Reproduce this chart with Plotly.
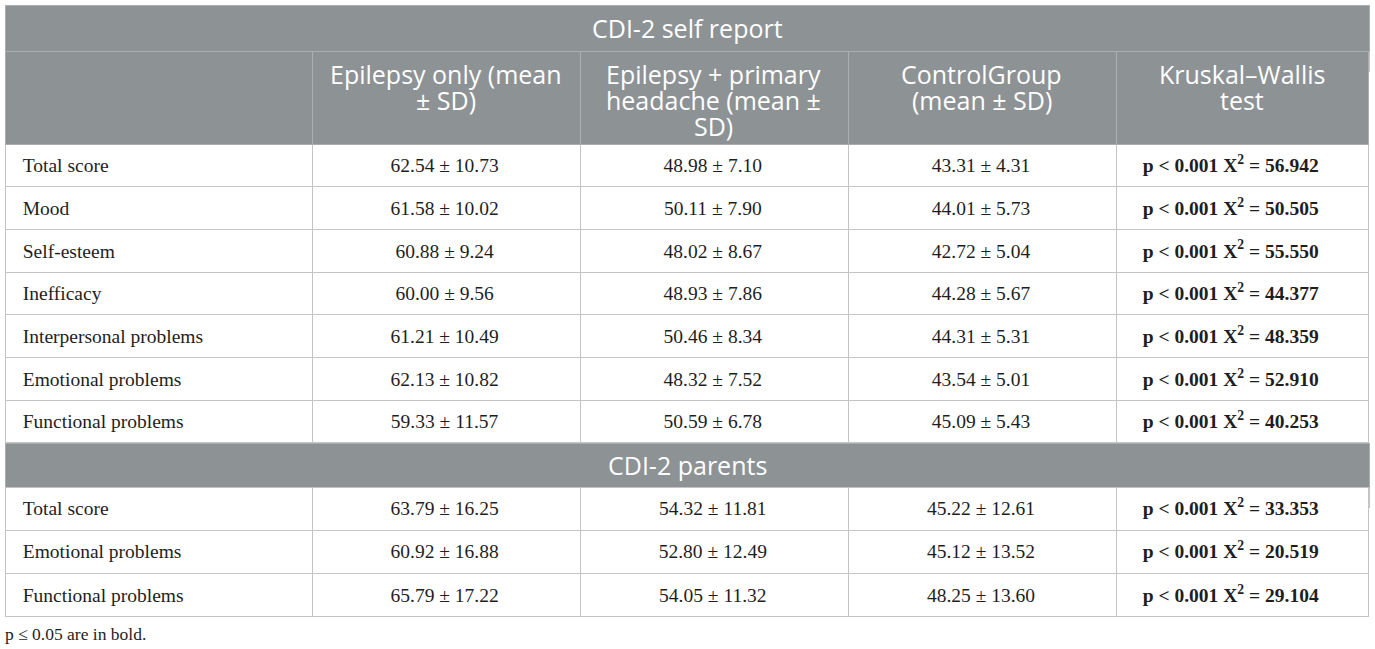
import plotly.graph_objects as go

# CDI-2 scores, mean ± SD per group, with Kruskal-Wallis results
col_headers = [[""], ["Epilepsy only (mean", "± SD)"], ["Epilepsy + primary", "headache (mean ±", "SD)"],
               ["ControlGroup", "(mean ± SD)"], ["Kruskal–Wallis", "test"]]
sections = ["CDI-2 self report", "CDI-2 parents"]

self_items = ["Total score", "Mood", "Self-esteem", "Inefficacy", "Interpersonal problems",
              "Emotional problems", "Functional problems"]
self_epi = ["62.54 ± 10.73", "61.58 ± 10.02", "60.88 ± 9.24", "60.00 ± 9.56", "61.21 ± 10.49",
            "62.13 ± 10.82", "59.33 ± 11.57"]
self_head = ["48.98 ± 7.10", "50.11 ± 7.90", "48.02 ± 8.67", "48.93 ± 7.86", "50.46 ± 8.34",
             "48.32 ± 7.52", "50.59 ± 6.78"]
self_ctrl = ["43.31 ± 4.31", "44.01 ± 5.73", "42.72 ± 5.04", "44.28 ± 5.67", "44.31 ± 5.31",
             "43.54 ± 5.01", "45.09 ± 5.43"]
self_chi2 = ["56.942", "50.505", "55.550", "44.377", "48.359", "52.910", "40.253"]

par_items = ["Total score", "Emotional problems", "Functional problems"]
par_epi = ["63.79 ± 16.25", "60.92 ± 16.88", "65.79 ± 17.22"]
par_head = ["54.32 ± 11.81", "52.80 ± 12.49", "54.05 ± 11.32"]
par_ctrl = ["45.22 ± 12.61", "45.12 ± 13.52", "48.25 ± 13.60"]
par_chi2 = ["33.353", "20.519", "29.104"]

p_text = "p &lt; 0.001"
footnote = "p ≤ 0.05 are in bold."

W, H = 1375, 649
LEFT, RIGHT = 5, 1369
gray = "rgb(141,146,149)"
head_line = "rgb(170,174,177)"
cell_line = "rgb(196,196,196)"
txt = "rgb(30,30,30)"
col_w = [307, 268, 268, 268, 252]
x_dom = [LEFT / W, RIGHT / W]
sans = dict(family="Open Sans", size=25, color="white")
serif = dict(family="Liberation Serif", size=19.5, color=txt)
aligns = ["left", "center", "center", "center", "center"]
NB = "\u00a0"
LIFT = "<sup>" + NB + "</sup>"  # same line box as the X² cells, keeps rows level


def ydom(top, bottom):
    # pixel rows -> paper fractions
    return [1 - bottom / H, 1 - top / H]


def kw(vals):
    return [f"<b>{p_text} X<sup>2</sup> = {v}{NB * 5}</b>" for v in vals]


def plain(vals, lead=""):
    return [lead + s + LIFT for s in vals]


def band(top, bottom):
    # full-width grey section row; the filler cell underneath is covered by the next table
    return go.Table(
        domain=dict(x=x_dom, y=ydom(top, bottom + 30)),
        header=dict(values=[""], fill_color=gray, line_color=head_line, height=bottom - top),
        cells=dict(values=[[""]], fill_color="white", line_color=cell_line, height=20))


def rows(cols, top, row_h, n):
    return go.Table(
        domain=dict(x=x_dom, y=ydom(top, top + row_h * n + 2)),
        columnwidth=col_w,
        header=dict(values=[c[0] for c in cols], fill_color="white", line_color=cell_line,
                    height=row_h, align=aligns, font=serif),
        cells=dict(values=[c[1:] for c in cols], height=row_h, fill_color="white",
                   line_color=cell_line, align=aligns, font=serif))


self_cols = [plain(self_items, NB * 2), plain(self_epi), plain(self_head), plain(self_ctrl), kw(self_chi2)]
par_cols = [plain(par_items, NB * 2), plain(par_epi), plain(par_head), plain(par_ctrl), kw(par_chi2)]

fig = go.Figure()
fig.add_trace(band(5, 51))
fig.add_trace(go.Table(
    domain=dict(x=x_dom, y=ydom(51, 446)),
    columnwidth=col_w,
    header=dict(values=[""] * len(col_w), fill_color=gray, line_color=head_line, height=93),
    cells=dict(values=self_cols, height=42.7, fill_color="white", line_color=cell_line,
               align=aligns, font=serif)))
fig.add_trace(band(443, 487))
fig.add_trace(rows(par_cols, 487, 43.3, 3))

# section titles across the full width
for name, yc in zip(sections, [28, 465]):
    fig.add_annotation(text=name, x=(LEFT + RIGHT) / 2 / W, y=1 - yc / H, xref="paper", yref="paper",
                       xanchor="center", yanchor="middle", showarrow=False, font=sans)

# column headings, one annotation per line so every line is centred
edge = LEFT
for w, lines in zip(col_w, col_headers):
    for i, line in enumerate(lines):
        if line:
            fig.add_annotation(text=line, x=(edge + w / 2) / W, y=1 - (74 + 26 * i) / H,
                               xref="paper", yref="paper", xanchor="center", yanchor="middle",
                               showarrow=False, font=sans)
    edge += w

fig.add_annotation(text=footnote, x=(LEFT - 2) / W, y=1 - 634 / H, xref="paper", yref="paper",
                   xanchor="left", yanchor="middle", showarrow=False,
                   font=dict(family="Liberation Serif", size=17.5, color=txt))

fig.update_layout(width=W, height=H, margin=dict(l=0, r=0, t=0, b=0),
                  paper_bgcolor="white", plot_bgcolor="white")
fig.write_html("out.html", config={"displayModeBar": False},
               post_script="document.body.style.margin = '0';")
